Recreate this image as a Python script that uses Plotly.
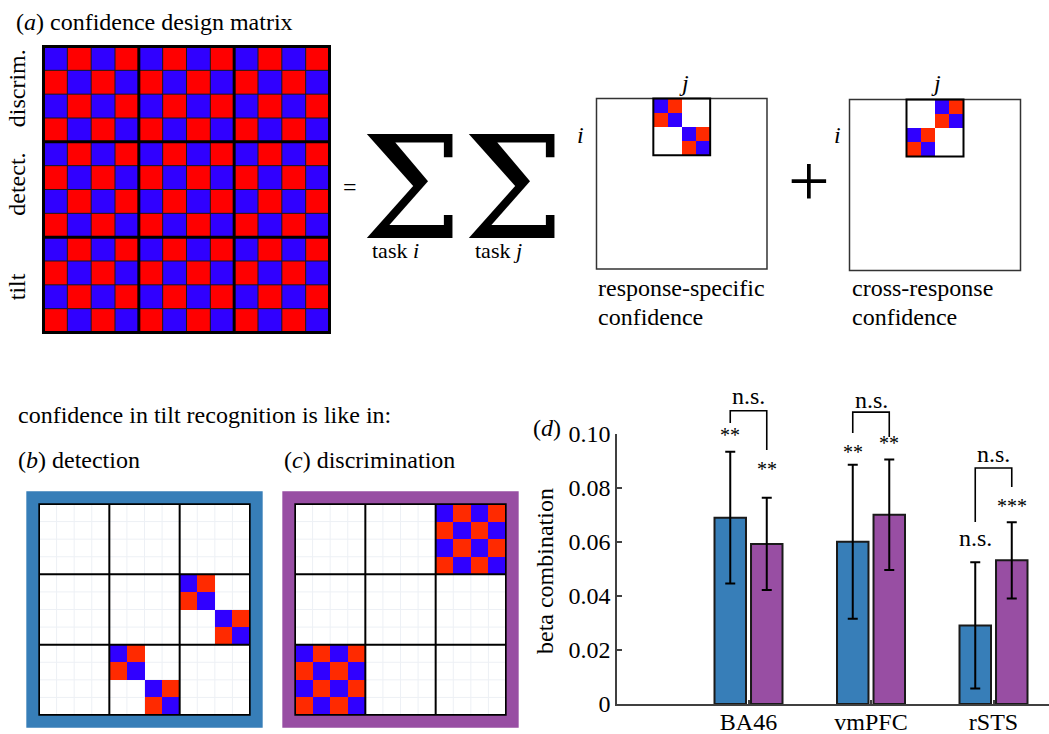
import plotly.graph_objects as go

W, H = 1049, 734
SERIF = "Times New Roman, Liberation Serif, Times, Tinos, Nimbus Roman, DejaVu Serif, Noto Serif, serif"
CELL_BLUE = "#3000ff"
CELL_RED = "#ff0000"
CELL_RED_SMALL = "#ff2a00"
BAR_BLUE = "#377eb8"
BAR_PURPLE = "#984ea3"

# ---------------- data ----------------
block_labels = ["discrim.", "detect.", "tilt"]

design_matrix = [
    "BRBRBRBRBRBR",
    "RBRBRBRBRBRB",
    "BRBRBRBRBRBR",
    "RBRBRBRBRBRB",
    "BRBRBRBRBRBR",
    "RBRBRBRBRBRB",
    "BRBRBRBRBRBR",
    "RBRBRBRBRBRB",
    "BRBRBRBRBRBR",
    "RBRBRBRBRBRB",
    "BRBRBRBRBRBR",
    "RBRBRBRBRBRB",
]

response_specific = [
    "....BR......",
    "....RB......",
    "......BR....",
    "......RB....",
    "............",
    "............",
    "............",
    "............",
    "............",
    "............",
    "............",
    "............",
]

cross_response = [
    "......BR....",
    "......RB....",
    "....BR......",
    "....RB......",
    "............",
    "............",
    "............",
    "............",
    "............",
    "............",
    "............",
    "............",
]

detection_pattern = [
    "............",
    "............",
    "............",
    "............",
    "........BR..",
    "........RB..",
    "..........BR",
    "..........RB",
    "....BR......",
    "....RB......",
    "......BR....",
    "......RB....",
]

discrimination_pattern = [
    "........BRBR",
    "........RBRB",
    "........BRBR",
    "........RBRB",
    "............",
    "............",
    "............",
    "............",
    "BRBR........",
    "RBRB........",
    "BRBR........",
    "RBRB........",
]

regions = ["BA46", "vmPFC", "rSTS"]
beta_detection = [0.069, 0.0601, 0.0291]
err_detection = [0.0244, 0.0285, 0.0234]
beta_discrimination = [0.0593, 0.0701, 0.0532]
err_discrimination = [0.0171, 0.0205, 0.0141]
sig_detection = ["**", "**", "n.s."]
sig_discrimination = ["**", "**", "***"]
sig_comparison = ["n.s.", "n.s.", "n.s."]
y_tick_values = [0, 0.02, 0.04, 0.06, 0.08, 0.10]
y_tick_labels = ["0", "0.02", "0.04", "0.06", "0.08", "0.10"]

# ---------------- figure ----------------
fig = go.Figure()
shapes = []
annotations = []


def to_z(rows):
    code = {"B": 0, "R": 1, ".": None}
    return [[code[ch] for ch in row] for row in rows]


def add_matrix(idx, rows, x0, y0, size, pad, red):
    n = len(rows)
    cell = size / n
    ax = "" if idx == 1 else str(idx)
    xd = [(x0 - pad * cell) / W, (x0 + size + pad * cell) / W]
    yd = [1 - (y0 + size + pad * cell) / H, 1 - (y0 - pad * cell) / H]
    fig.update_layout(**{
        f"xaxis{ax}": dict(domain=xd, range=[-pad, n + pad], visible=False,
                           fixedrange=True, anchor=f"y{ax}", automargin=False),
        f"yaxis{ax}": dict(domain=yd, range=[n + pad, -pad], visible=False,
                           fixedrange=True, anchor=f"x{ax}", automargin=False),
    })
    fig.add_trace(go.Heatmap(
        z=to_z(rows), x=[i + 0.5 for i in range(n)], y=[i + 0.5 for i in range(n)],
        zmin=0, zmax=1, colorscale=[[0, CELL_BLUE], [1, red]], showscale=False,
        hoverinfo="skip", xaxis=f"x{ax}", yaxis=f"y{ax}"))
    return f"x{ax}", f"y{ax}", n


def line(xr, yr, x0, y0, x1, y1, color, width, layer="above"):
    shapes.append(dict(type="line", xref=xr, yref=yr, x0=x0, y0=y0, x1=x1, y1=y1,
                       line=dict(color=color, width=width), layer=layer))


def rect(xr, yr, x0, y0, x1, y1, color, width, layer="above"):
    shapes.append(dict(type="rect", xref=xr, yref=yr, x0=x0, y0=y0, x1=x1, y1=y1,
                       line=dict(color=color, width=width), fillcolor="rgba(0,0,0,0)",
                       layer=layer))


# (a) big design matrix
xr, yr, n = add_matrix(1, design_matrix, 43.5, 46.5, 286, 0.15, CELL_RED)
for k in range(1, n):
    if k % 4:
        line(xr, yr, k, 0, k, n, "#1a1a1a", 1)
        line(xr, yr, 0, k, n, k, "#1a1a1a", 1)
for k in (4, 8):
    line(xr, yr, k, 0, k, n, "black", 3)
    line(xr, yr, 0, k, n, k, "black", 3)
rect(xr, yr, 0, 0, n, n, "black", 3)

# schematic matrices
for idx, rows, x0, y0, size in [(2, response_specific, 596.5, 98.5, 170.5),
                                (3, cross_response, 849.5, 99.5, 171)]:
    xr, yr, n = add_matrix(idx, rows, x0, y0, size, 0.15, CELL_RED_SMALL)
    rect(xr, yr, 0, 0, n, n, "#333333", 1.5)
    rect(xr, yr, 4, 0, 8, 4, "black", 2)

# (b), (c) panels
for idx, rows, x0, frame_color in [(4, detection_pattern, 39, BAR_BLUE),
                                   (5, discrimination_pattern, 295, BAR_PURPLE)]:
    xr, yr, n = add_matrix(idx, rows, x0, 504, 211, 0.8, CELL_RED_SMALL)
    for k in range(1, n):
        if k % 4:
            line(xr, yr, k, 0, k, n, "#edf0f5", 1, layer="below")
            line(xr, yr, 0, k, n, k, "#edf0f5", 1, layer="below")
    for k in (4, 8):
        line(xr, yr, k, 0, k, n, "black", 2)
        line(xr, yr, 0, k, n, k, "black", 2)
    rect(xr, yr, 0, 0, n, n, "black", 2)
    rect(xr, yr, -0.38, -0.38, n + 0.38, n + 0.38, frame_color, 12)

# (d) bar chart
cats = [1, 2, 3]
off = 0.149
bw = 0.257
fig.add_trace(go.Bar(
    x=cats, y=beta_detection, offset=-off - bw / 2, width=bw,
    marker=dict(color=BAR_BLUE, line=dict(color="#1a1a1a", width=2)),
    error_y=dict(type="data", array=err_detection, color="black", thickness=2, width=5),
    xaxis="x6", yaxis="y7", hoverinfo="skip"))
fig.add_trace(go.Bar(
    x=cats, y=beta_discrimination, offset=off - bw / 2, width=bw,
    marker=dict(color=BAR_PURPLE, line=dict(color="#1a1a1a", width=2)),
    error_y=dict(type="data", array=err_discrimination, color="black", thickness=2, width=5),
    xaxis="x6", yaxis="y7", hoverinfo="skip"))

bracket_top = [0.1086, 0.1081, 0.0874]
bracket_left_end = [0.1041, 0.1004, 0.0674]
bracket_right_end = [0.0941, 0.0989, 0.0804]
for i, c in enumerate(cats):
    fig.add_trace(go.Scatter(
        x=[c - off, c - off, c + off, c + off],
        y=[bracket_left_end[i], bracket_top[i], bracket_top[i], bracket_right_end[i]],
        mode="lines", line=dict(color="black", width=1.6),
        xaxis="x6", yaxis="y6", hoverinfo="skip", showlegend=False))

det_label_y = [0.0998, 0.0932, 0.0614]
dis_label_y = [0.0871, 0.0965, 0.0735]
cmp_label_y = [0.1140, 0.1125, 0.0926]
for i, c in enumerate(cats):
    for txt, xx, yy in [(sig_detection[i], c - off, det_label_y[i]),
                        (sig_discrimination[i], c + off, dis_label_y[i]),
                        (sig_comparison[i], c, cmp_label_y[i])]:
        size = 20 if txt.startswith("*") else 24
        annotations.append(dict(text=txt, x=xx, y=yy, xref="x6", yref="y6",
                                showarrow=False, xanchor="center", yanchor="middle",
                                font=dict(size=size)))

fig.update_layout(
    xaxis6=dict(domain=[617 / W, 1], range=[-0.0735, 3.453], anchor="y7",
                showline=True, linecolor="#404040", linewidth=1.5,
                ticks="inside", ticklen=4, tickwidth=1.5, tickcolor="#404040",
                tickvals=cats, ticktext=regions, showgrid=False, zeroline=False,
                ticklabelstandoff=-5,
                tickfont=dict(size=24, color="black"), fixedrange=True, automargin=False),
    yaxis7=dict(domain=[1 - 704 / H, 1 - 434 / H], range=[0, 0.10], anchor="x6",
                showline=True, linecolor="#404040", linewidth=1.5,
                ticks="inside", ticklen=5, tickwidth=1.5, tickcolor="#404040",
                tickvals=y_tick_values, ticktext=y_tick_labels, showgrid=False,
                zeroline=False, tickfont=dict(size=24, color="black"), fixedrange=True,
                automargin=False),
    yaxis6=dict(domain=[1 - 704 / H, 1 - 380 / H], range=[0, 0.12], anchor="x6",
                visible=False, fixedrange=True, automargin=False),
)


def txt(text, x, y, size=24, xanchor="left", angle=0, yref="paper", yval=None, family=None):
    font = dict(size=size)
    if family:
        font["family"] = family
    annotations.append(dict(text=text, x=x / W, y=(1 - y / H) if yval is None else yval,
                            xref="paper", yref=yref, showarrow=False,
                            xanchor=xanchor, yanchor="middle", textangle=angle,
                            font=font))


txt("(<i>a</i>) confidence design matrix", 14, 22)
for lab, yy in zip(block_labels, [1.75, 5.8, 10.1]):
    txt(lab, 17, 0, xanchor="center", angle=-90, yref="y", yval=yy)
txt("=", 350, 186.5, xanchor="center")
txt("Σ", 411, 188, size=143, xanchor="center", family="DejaVu Serif")
txt("Σ", 513.5, 188, size=143, xanchor="center", family="DejaVu Serif")
txt("task <i>i</i>", 370, 250, size=22)
txt("task <i>j</i>", 473, 250, size=22)
txt("<i>j</i>", 684, 82.5, xanchor="center")
txt("<i>i</i>", 580, 135, xanchor="center")
txt("<i>j</i>", 936, 82.5, xanchor="center")
txt("<i>i</i>", 837, 135, xanchor="center")
txt("+", 808.5, 181.5, size=74, xanchor="center")
txt("response-specific", 596, 288)
txt("confidence", 596, 317)
txt("cross-response", 850, 288)
txt("confidence", 850, 317)
txt("confidence in tilt recognition is like in:", 16, 415)
txt("(<i>b</i>) detection", 16, 460)
txt("(<i>c</i>) discrimination", 282, 460)
txt("(<i>d</i>)", 547, 428, xanchor="center")
txt("beta combination", 545, 571, xanchor="center", angle=-90)

fig.update_layout(
    template="none",
    width=W, height=H, margin=dict(l=0, r=0, t=0, b=0, pad=0, autoexpand=False),
    paper_bgcolor="white", plot_bgcolor="rgba(0,0,0,0)",
    font=dict(family=SERIF, size=24, color="black"),
    showlegend=False, barmode="overlay",
    shapes=shapes, annotations=annotations,
)

fig.write_html("out.html", config={"displayModeBar": False},
               post_script="document.body.style.margin='0';document.body.style.overflow='hidden';")
